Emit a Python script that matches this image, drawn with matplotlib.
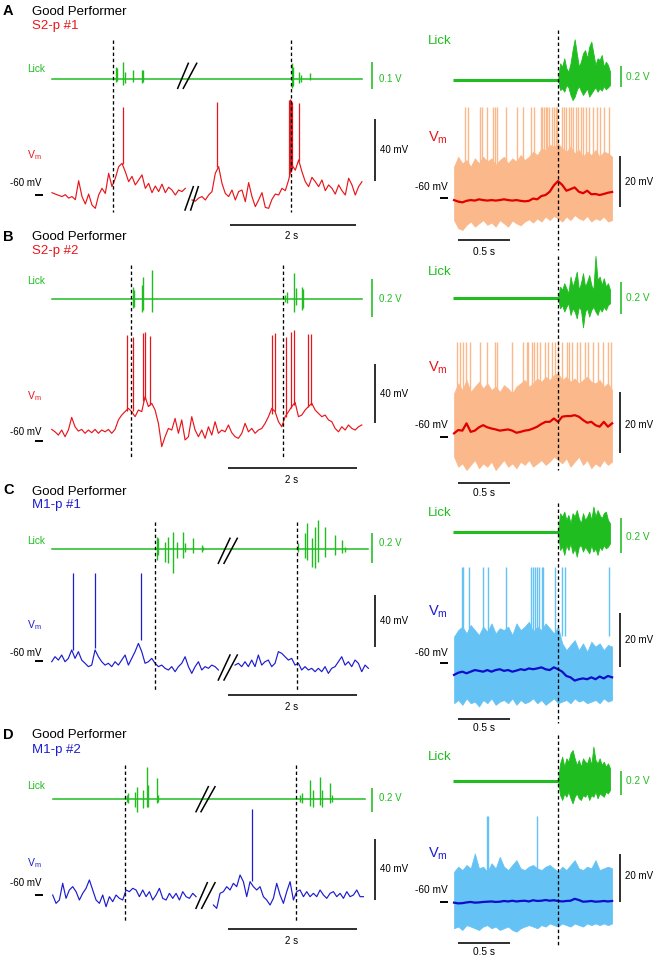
import numpy as np
import matplotlib
matplotlib.use('Agg')
import matplotlib.pyplot as plt
from matplotlib.lines import Line2D
import matplotlib.transforms as mtrans

plt.rcParams['font.family'] = ['Liberation Sans', 'DejaVu Sans']
plt.rcParams['mathtext.fontset'] = 'custom'
plt.rcParams['mathtext.rm'] = 'Liberation Sans'
plt.rcParams['mathtext.it'] = 'Liberation Sans:italic'

# ------------------------------------------------------------------ data
# ---- example traces (left column): Vm in mV, lick in V, time in s
A_DT = 0.0529
A_SEG_START = [0.0, 2.222]
A_VM1 = [-58.5, -59.4, -60.2, -61, -59.8, -62, -61, -63, -50.8, -61, -65.8, -59.4, -66.5, -68.6, -60, -55.7, -59, -46,
         -54.6, -49.2, -41.7, -39.6, -45, -51.4, -48, -53.5, -50.3, -47, -55.7, -52.5, -58.5, -54.2, -57.8, -53, -58.5,
         -55, -56.8, -60, -56.8, -57.8, -55.7]
A_VM2 = [-63.2, -64, -62, -61, -63.2, -60, -57.8, -46, -41.7, -52.5, -59, -61, -56.8, -63.2, -57.8, -56.8, -64.3, -52,
         -61, -67.5, -63.2, -58.5, -68, -68.6, -62.8, -59.4, -60, -55.7, -57.2, -50.3, -40.6, -44, -37.4, -45, -51.4,
         -54.6, -48.6, -51.4, -54.6, -50.3, -57.2, -53.5, -55.7, -59.4, -53.5, -57.2, -60, -49.2, -53.5, -60, -54.6, -51.4]
A_SPK_T = [1.132, 2.624, 3.757, 3.772, 3.788, 3.804, 3.915]
A_SPK_BASE = [-40, -42, -47, -46, -45, -43, -38]
A_SPK_PEAK = [-3, 0.2, 1.3, 1.7, 1.3, 0.2, -0.9]
A_LICK_DUR = 4.92
A_LICK_T = [1.016, 1.037, 1.132, 1.159, 1.280, 1.423, 1.450, 3.804, 3.831, 3.926, 3.952, 4.095]
A_LICK_HI = [0.0475, 0.041, 0.064, 0.029, 0.035, 0.035, 0.035, 0.06, 0.0475, 0.029, 0.016, 0.025]
A_LICK_LO = [-0.009, -0.005, -0.021, -0.015, -0.009, -0.0125, -0.009, -0.034, -0.025, -0.015, -0.009, -0.0025]
A_CUE_T = [0.963, 3.794]

B_DT = 0.0517
B_SEG_START = [0.0]
B_VM = [-52.4, -54, -56.2, -52.8, -57.3, -52.8, -44.3, -50.6, -53.5, -52.4, -55, -52.8, -54.6, -52.4, -55, -52.8, -54,
        -52.4, -55, -52.4, -46, -42.7, -40.4, -38.2, -40.4, -43.8, -39.3, -40.4, -30.3, -37, -34.8, -39.3, -48.3, -64,
        -57.3, -51.7, -52.8, -45, -55, -46, -59.5, -57.3, -43.8, -52.8, -57.3, -52.8, -58.4, -50.6, -56.2, -47.2, -55,
        -52.8, -54, -49.4, -54.6, -57.3, -58.4, -55, -48.3, -54, -51.7, -55, -52.8, -51.7, -48.3, -43.8, -38.2, -40.4,
        -47.2, -50.6, -43.8, -40.4, -37, -34.2, -43.8, -42.7, -39.3, -37, -34.8, -39.3, -41.6, -43.8, -42.7, -46, -47.2,
        -51.7, -54, -50.6, -52.8, -49.4, -51.7, -52.8, -50.6, -49.4]
B_SPK_T = [1.163, 1.256, 1.421, 1.447, 1.525, 3.411, 3.463, 3.633, 3.711, 3.757, 3.979, 4.016]
B_SPK_BASE = [-40, -40, -33, -32, -36, -42, -40, -44, -38, -36, -37, -36]
B_SPK_PEAK = [11.2, 10.1, 12.4, 13.5, 10.6, 11.2, 12.4, 10.1, 13.5, 14.6, 11.9, 11.9]
B_LICK_DUR = 4.806
B_LICK_T = [1.256, 1.282, 1.395, 1.421, 1.550, 3.618, 3.643, 3.757, 3.788, 3.876, 3.902]
B_LICK_HI = [0.064, 0.047, 0.073, 0.117, 0.151, 0.021, 0.038, 0.134, 0.056, 0.064, 0.05]
B_LICK_LO = [-0.049, -0.040, -0.066, -0.057, -0.066, -0.014, -0.019, -0.066, -0.031, -0.057, -0.049]
B_CUE_T = [1.230, 3.592]

C_DT = 0.0517
C_SEG_START = [0.0, 2.842]
C_VM1 = [-60.8, -56.9, -59.5, -55.6, -60.8, -58.2, -51.7, -58.2, -53, -59.5, -62, -64.6, -63.4, -51.7, -56.9, -60.8,
         -63.4, -62, -64.6, -60.8, -63.4, -59.5, -55.6, -63.4, -58.2, -53, -46.6, -53, -62, -60.8, -58.2, -62, -64.6,
         -63.4, -65.9, -67.2, -64.6, -68.5, -64.6, -62, -56.9, -64.6, -69.8, -64.6, -60.8, -67.2, -64.6, -65.9, -63.4,
         -64.6, -67.2]
C_VM2 = [-63.4, -62, -64.6, -60.8, -64.6, -59.5, -64.6, -55.6, -63.4, -60.8, -59.5, -64.6, -62, -53, -54.3, -56.9,
         -59.5, -58.2, -63.4, -62, -67.2, -64.6, -67.2, -65.9, -68.5, -65.9, -68.5, -64.6, -69.8, -65.9, -64.6, -60.8,
         -56.9, -63.4, -60.8, -64.6, -59.5, -62, -68.5, -63.4, -65.9]
C_SPK_T = [0.326, 0.677, 1.385]
C_SPK_BASE = [-52, -50, -44]
C_SPK_PEAK = [7.6, 7.6, 7.6]
C_LICK_DUR = 4.91
C_LICK_T = [1.628, 1.654, 1.757, 1.809, 1.886, 1.938, 2.041, 2.067, 2.196, 2.326, 2.351, 3.824, 3.928, 3.953, 4.031,
            4.083, 4.134, 4.238, 4.393, 4.496, 4.548]
C_LICK_HI = [0.084, 0.073, 0.051, 0.084, 0.118, 0.051, 0.118, 0.04, 0.073, 0.029, 0.018, 0.04, 0.107, 0.173, 0.073,
             0.151, 0.196, 0.151, 0.096, 0.062, 0.018]
C_LICK_LO = [-0.071, -0.038, -0.082, -0.093, -0.16, -0.06, -0.06, -0.016, -0.027, -0.016, -0.004, -0.016, -0.06,
             -0.071, -0.116, -0.127, -0.082, -0.049, -0.038, -0.027, -0.016]
C_CUE_T = [1.602, 3.798]

D_DT = 0.0517
D_SEG_START = [0.0, 2.491]
D_VM1 = [-60, -65.5, -63.3, -52.3, -62.2, -56.7, -54.5, -57.8, -63.3, -58.9, -55.6, -50.1, -56.7, -63.3, -65.5, -60,
         -67.7, -61.1, -64.4, -60, -62.2, -63.3, -56.7, -57.8, -55.6, -56.7, -61.1, -56.7, -61.1, -57.8, -63.3, -60,
         -55.6, -62.2, -63.3, -58.9, -62.2, -58.9, -63.3, -57.8, -61.1, -62.2, -58.9, -61.1]
D_VM2 = [-66.6, -68.8, -58.9, -57.8, -54.5, -56.7, -52.3, -54.5, -46.8, -51.2, -61.1, -51.2, -54.5, -56.7, -54.5,
         -61.1, -63.3, -66.6, -62.2, -52.3, -60, -65.5, -57.8, -51.2, -63.3, -57.8, -56.7, -61.1, -57.8, -61.1, -58.9,
         -61.1, -56.7, -60, -62.2, -58.9, -57.8, -61.1, -58.9, -62.2, -57.8, -61.1, -60, -56.7, -61.1, -61.1]
D_SPK_T = [3.096]
D_SPK_BASE = [-51]
D_SPK_PEAK = [-3.5]
D_LICK_DUR = 4.84
D_LICK_T = [1.147, 1.173, 1.276, 1.302, 1.406, 1.457, 1.483, 1.612, 1.638, 3.835, 3.86, 3.99, 4.041, 4.145, 4.171,
            4.3, 4.326]
D_LICK_HI = [0.033, 0.047, 0.06, 0.101, 0.074, 0.266, 0.115, 0.17, 0.033, 0.033, 0.047, 0.156, 0.074, 0.184, 0.074,
             0.129, 0.033]
D_LICK_LO = [-0.022, -0.036, -0.063, -0.104, -0.077, -0.063, -0.063, -0.036, -0.022, -0.022, -0.036, -0.058, -0.063,
             -0.049, -0.063, -0.036, -0.022]
D_CUE_T = [1.127, 3.773]

# ---- lick-aligned overlays (right column): time relative to first lick (s)
R_WIN = (-1.01, 0.52)
R_T0, R_DT = -1.0, 0.04          # Vm envelope / mean sampling
R_LICK_DT = 0.02                 # lick envelope sampling (from t = 0)

A_R_MEAN = [-60.7, -61.3, -61.6, -61, -60.7, -60.9, -60.4, -60.7, -60.9, -60.7, -60.9, -60.7, -60.4, -60.7, -60.9,
            -60.7, -61, -61.2, -61, -60.1, -60.4, -59.1, -58.7, -57.4, -54.9, -53.2, -54.7, -57, -56.4, -55.7, -57.4,
            -58, -57, -58.4, -58.3, -58.7, -58.3, -57.8, -57.5]
A_R_HI = [-47.5, -43.6, -46.2, -44.9, -47.5, -44.2, -46.2, -43.6, -45.5, -44.2, -46.8, -44.9, -43.6, -46.2, -44.2,
          -45.5, -42.9, -44.9, -43.6, -41.6, -42.9, -40.3, -40.9, -38.9, -39.6, -38.3, -40.3, -41.6, -39.6, -42.2,
          -40.9, -43.6, -41.6, -42.9, -40.9, -43.6, -41.6, -42.2, -43.6]
A_R_LO = [-68.6, -71.8, -72.5, -70.5, -69.2, -71.2, -69.9, -68.6, -70.5, -69.6, -71.2, -68.6, -69.9, -71.2, -68.8,
          -69.9, -70.7, -69.2, -68.3, -69.6, -67.9, -69.2, -67.2, -68.6, -67, -67.9, -69.2, -67.2, -68.6, -66.6, -67.9,
          -68.6, -67, -69.2, -67.9, -68.6, -67.2, -69.2, -68.6]
A_R_SPK = [-0.894, -0.869, -0.75, -0.731, -0.686, -0.622, -0.603, -0.583, -0.5, -0.397, -0.34, -0.263, -0.231, -0.167,
           -0.151, -0.135, -0.119, -0.103, -0.083, -0.061, -0.038, -0.019, -0.006, 0.035, 0.058, 0.077, 0.103, 0.122,
           0.147, 0.173, 0.196, 0.218, 0.244, 0.269, 0.301, 0.34, 0.372, 0.404, 0.442, 0.494]
A_R_SPK_TOP = -24.1
A_R_LICK_HI = [0, 0.161, 0.129, 0.21, 0.113, 0.081, 0.161, 0.29, 0.394, 0.258, 0.129, 0.177, 0.258, 0.29, 0.21, 0.323,
               0.371, 0.258, 0.145, 0.21, 0.194, 0.242, 0.129, 0.177, 0.145, 0.081]
A_R_LICK_LO = [0, -0.097, -0.081, -0.113, -0.048, -0.071, -0.145, -0.194, -0.161, -0.097, -0.058, -0.103, -0.145,
               -0.113, -0.081, -0.161, -0.129, -0.097, -0.071, -0.113, -0.081, -0.103, -0.058, -0.09, -0.071, -0.048]

B_R_MEAN = [-58.9, -57.8, -58, -55.6, -58.4, -58, -56.9, -56.2, -56.9, -57.3, -57.6, -58, -57.8, -57.6, -58, -58.7,
            -58.4, -58, -57.8, -57.3, -56.7, -55.8, -55.1, -55.1, -54, -55.1, -53.4, -53.2, -53.2, -52.9, -53.4, -54.5,
            -55.4, -55.1, -56.2, -56.7, -55.1, -56.7, -55.6]
B_R_HI = [-45.7, -42.4, -44.6, -41.3, -45.2, -43.5, -41.9, -44.1, -42.4, -44.6, -43.5, -45.2, -43, -44.1, -45.7, -43.5,
          -42.4, -41.3, -43.5, -42.4, -40.8, -41.9, -40.2, -41.3, -39.7, -39.1, -41.3, -40.2, -41.9, -40.8, -42.4,
          -41.3, -40.2, -41.9, -42.4, -41.3, -43.5, -42.4, -44.6]
B_R_LO = [-66.6, -69.9, -68.8, -71, -69.3, -67.7, -70.4, -68.8, -69.9, -68.2, -71, -69.3, -67.7, -69.9, -68.8, -70.4,
          -68.2, -69.3, -67.7, -69.9, -68.8, -67.7, -69.3, -68.2, -66.6, -67.7, -68.8, -67.1, -69.9, -68.2, -66.6,
          -69.3, -67.7, -70.4, -68.8, -69.9, -67.7, -69.3, -68.2]
B_R_SPK = [-0.974, -0.942, -0.91, -0.885, -0.846, -0.75, -0.686, -0.606, -0.59, -0.446, -0.333, -0.301, -0.285,
           -0.253, -0.231, -0.205, -0.173, -0.125, -0.093, -0.061, -0.029, 0.003, 0.035, 0.083, 0.109, 0.131, 0.179,
           0.212, 0.26, 0.292, 0.34, 0.388, 0.436, 0.484, 0.506]
B_R_SPK_TOP = -28.7
B_R_LICK_HI = [0, 0.072, 0.052, 0.093, 0.062, 0.031, 0.134, 0.072, 0.113, 0.165, 0.052, 0.093, 0.155, 0.072, 0.103,
               0.144, 0.082, 0.052, 0.262, 0.113, 0.134, 0.082, 0.124, 0.072, 0.093, 0.052]
B_R_LICK_LO = [0, -0.062, -0.041, -0.082, -0.052, -0.031, -0.103, -0.062, -0.082, -0.124, -0.052, -0.072, -0.179,
               -0.082, -0.062, -0.113, -0.072, -0.052, -0.082, -0.103, -0.062, -0.082, -0.052, -0.072, -0.041, -0.031]

C_R_MEAN = [-64.3, -63.5, -63.1, -63.7, -63.1, -62.5, -62.8, -63.1, -62.5, -63.1, -62.5, -62.2, -62.8, -62.5, -63.1,
            -62.7, -62.2, -62.5, -61.9, -62.2, -61.9, -61.5, -62.2, -62.5, -61.5, -62.2, -63.1, -64.7, -65.2, -66.4,
            -65.9, -65.6, -65.9, -65.2, -65.9, -64.9, -65.6, -64.7, -65.2]
C_R_HI = [-50.1, -47.7, -46.4, -48.9, -45.8, -47.7, -49.5, -46.4, -48.3, -45.2, -48.9, -47, -47.7, -46.4, -49.5, -45.2,
          -47.7, -46.4, -44.6, -48.3, -46.4, -47.7, -45.2, -47, -48.9, -46.4, -52.6, -55.1, -53.2, -51.4, -55.1, -52.6,
          -55.7, -52, -53.8, -52.6, -55.1, -53.2, -53.8]
C_R_LO = [-74.8, -73.6, -75.4, -73, -74.8, -74.2, -76, -73.6, -74.8, -73, -75.4, -74.2, -73.6, -74.8, -73, -75.4,
          -73.6, -74.8, -74.2, -73, -74.8, -73.6, -75.4, -74.2, -73, -74.8, -74.2, -73.6, -74.8, -73, -74.2, -73.6,
          -74.8, -74.2, -73.6, -74.8, -73, -74.2, -73.6]
C_R_SPK = [-0.926, -0.91, -0.853, -0.718, -0.67, -0.5, -0.263, -0.244, -0.221, -0.199, -0.179, -0.157, -0.141, -0.029,
           0.035, 0.067, 0.494]
C_R_SPK_TOP = -24.2
C_R_LICK_HI = [0, 0.108, 0.089, 0.117, 0.07, 0.098, 0.051, 0.108, 0.089, 0.126, 0.079, 0.051, 0.108, 0.07, 0.089,
               0.117, 0.07, 0.145, 0.089, 0.126, 0.098, 0.079, 0.108, 0.117, 0.07, 0.051]
C_R_LICK_LO = [0, -0.1, -0.081, -0.128, -0.072, -0.1, -0.062, -0.119, -0.091, -0.138, -0.081, -0.072, -0.109, -0.081,
               -0.1, -0.119, -0.072, -0.109, -0.091, -0.128, -0.081, -0.1, -0.072, -0.091, -0.081, -0.062]

D_R_MEAN = [-60.4, -60.7, -60.6, -60.3, -60.1, -60.4, -60.3, -60.1, -60, -59.9, -60.1, -60, -59.7, -59.9, -59.6, -59.9,
            -59.7, -59.6, -59.9, -59.4, -59.7, -59.6, -59.3, -59.6, -59.4, -59.7, -59.9, -59.7, -59.6, -58.8, -59.3,
            -60, -59.9, -59.7, -60, -59.9, -59.7, -59.9, -59.7]
D_R_HI = [-47.6, -45.5, -46.9, -44.8, -46.2, -40, -46.2, -45.5, -47.6, -44.1, -46.2, -41.4, -45.5, -46.9, -44.8, -42.8,
          -46.2, -46.9, -45.5, -44.8, -46.2, -46.9, -45.5, -44.8, -46.2, -47.6, -45.5, -46.9, -44.8, -42.8, -46.2,
          -46.9, -45.5, -46.2, -42.8, -46.9, -46.2, -45.5, -46.2]
D_R_LO = [-71, -70.3, -71.7, -69.7, -70.3, -71, -71.7, -70.3, -69.7, -71, -70.3, -71.7, -71, -70.3, -71.7, -72.4, -71,
          -70.3, -69.7, -70.3, -71, -69.7, -70.3, -69, -69.7, -70.3, -69, -69.7, -70.3, -69, -69.7, -70.3, -69, -69.7,
          -69, -69.7, -69, -69.7, -69]
D_R_SPK = [-0.686, -0.67, -0.199]
D_R_SPK_TOP = -24.6
D_R_LICK_HI = [0, 0.147, 0.203, 0.119, 0.189, 0.161, 0.231, 0.258, 0.189, 0.133, 0.175, 0.119, 0.189, 0.161, 0.147,
               0.203, 0.133, 0.286, 0.175, 0.147, 0.189, 0.133, 0.161, 0.119, 0.147, 0.106]
D_R_LICK_LO = [0, -0.117, -0.158, -0.103, -0.131, -0.089, -0.144, -0.186, -0.131, -0.103, -0.144, -0.158, -0.117,
               -0.131, -0.103, -0.158, -0.117, -0.131, -0.089, -0.144, -0.103, -0.117, -0.131, -0.089, -0.103, -0.075]

PANEL_LETTERS = ['A', 'B', 'C', 'D']
CELL_NAMES = ['S2-p #1', 'S2-p #2', 'M1-p #1', 'M1-p #2']
GROUP_TITLE = 'Good Performer'
LICK_SCALE_LEFT = [0.1, 0.2, 0.2, 0.2]   # V
LICK_SCALE_RIGHT = 0.2                    # V
VM_SCALE_LEFT = 40                        # mV
VM_SCALE_RIGHT = 20                       # mV
T_SCALE_LEFT = 2.0                        # s
T_SCALE_RIGHT = 0.5                       # s
VM_REF = -60                              # mV

# ------------------------------------------------------------------ style
GREEN = '#1fbd1f'
RED = '#e8161b'
BLUE = '#1c1cd0'
ORANGE_L = '#fbb88a'
BLUE_L = '#64c2f5'
MEAN_RED = '#e10000'
MEAN_BLUE = '#0d0dcc'

W, H = 654, 957
fig = plt.figure(figsize=(W / 100, H / 100), dpi=100)


def px_ax(x0, x1, ytop, ybot, t0, pps, yref, vref, ppu):
    ax = fig.add_axes([x0 / W, 1 - ybot / H, (x1 - x0) / W, (ybot - ytop) / H])
    ax.set_xlim(t0, t0 + (x1 - x0) / pps)
    ax.set_ylim(vref - (ybot - yref) / ppu, vref + (yref - ytop) / ppu)
    ax.set_axis_off()
    return ax


def px2data(ax, x, y):
    disp = fig.transFigure.transform((x / W, 1 - y / H))
    return ax.transData.inverted().transform(disp)


def ftext(x, y, s, **kw):
    kw.setdefault('va', 'center')
    fig.text(x / W, 1 - y / H, s, **kw)


def fline(x0, y0, x1, y1, **kw):
    fig.add_artist(Line2D([x0 / W, x1 / W], [1 - y0 / H, 1 - y1 / H], transform=fig.transFigure, **kw))


def dashed(ax, t, ytop, ybot):
    tr = mtrans.blended_transform_factory(ax.transData, fig.transFigure)
    ax.plot([t, t], [1 - ytop / H, 1 - ybot / H], transform=tr, color='black', lw=0.95,
            ls=(0, (2.6, 2.0)), clip_on=False, zorder=6)


def vbar(ax, xpx, ybot_px, length, color):
    tb, vb = px2data(ax, xpx, ybot_px)
    ax.plot([tb, tb], [vb, vb + length], color=color, lw=1.15, clip_on=False, solid_capstyle='butt')


def hbar(ax, x0px, ypx, length):
    tb, vb = px2data(ax, x0px, ypx)
    ax.plot([tb, tb + length], [vb, vb], color='black', lw=1.15, clip_on=False, solid_capstyle='butt')


def ref_tick(ax, x0px, x1px, v):
    ta, _ = px2data(ax, x0px, 0)
    tb, _ = px2data(ax, x1px, 0)
    ax.plot([ta, tb], [v, v], color='black', lw=1.4, clip_on=False, solid_capstyle='butt')


def vm_label(x, y, color, size):
    ftext(x, y, r'V$_{\mathrm{m}}$', color=color, fontsize=size)


# ------------------------------------------------------------------ left column
LEFT = [
    dict(dt=A_DT, starts=A_SEG_START, segs=[A_VM1, A_VM2], spk=(A_SPK_T, A_SPK_BASE, A_SPK_PEAK),
         lick=(A_LICK_T, A_LICK_HI, A_LICK_LO), dur=A_LICK_DUR, cue=A_CUE_T, color=RED,
         tx0=52, pps=63, lk=(79.3, 266.7, 55, 100), vm=(195, 1.55, 95, 215),
         lbar_y=88.5, vbar_y=180.5, tbar=(230, 225), cue_y=(40, 212),
         brk=[((177.7, 88.3, 188.3, 63.3), (183.3, 88.3, 196.7, 63.3)),
              ((185, 210, 193.3, 186.7), (190.7, 210, 198.3, 186.7))]),
    dict(dt=B_DT, starts=B_SEG_START, segs=[B_VM], spk=(B_SPK_T, B_SPK_BASE, B_SPK_PEAK),
         lick=(B_LICK_T, B_LICK_HI, B_LICK_LO), dur=B_LICK_DUR, cue=B_CUE_T, color=RED,
         tx0=51.7, pps=64.5, lk=(299, 191.7, 260, 335), vm=(440.7, 1.483, 320, 460),
         lbar_y=317, vbar_y=423, tbar=(228, 468), cue_y=(265, 457),
         brk=[]),
    dict(dt=C_DT, starts=C_SEG_START, segs=[C_VM1, C_VM2], spk=(C_SPK_T, C_SPK_BASE, C_SPK_PEAK),
         lick=(C_LICK_T, C_LICK_HI, C_LICK_LO), dur=C_LICK_DUR, cue=C_CUE_T, color=BLUE,
         tx0=51.7, pps=64.5, lk=(549.3, 150, 515, 580), vm=(660.7, 1.292, 565, 700),
         lbar_y=563, vbar_y=647, tbar=(228, 695), cue_y=(522, 690),
         brk=[((218.3, 563.3, 230, 538.3), (224, 563.3, 237.3, 538.3)),
              ((218.3, 680, 230, 655), (224, 680, 237.3, 655))]),
    dict(dt=D_DT, starts=D_SEG_START, segs=[D_VM1, D_VM2], spk=(D_SPK_T, D_SPK_BASE, D_SPK_PEAK),
         lick=(D_LICK_T, D_LICK_HI, D_LICK_LO), dur=D_LICK_DUR, cue=D_CUE_T, color=BLUE,
         tx0=52.7, pps=64.5, lk=(799, 121.7, 762, 815), vm=(895, 1.517, 805, 935),
         lbar_y=812, vbar_y=900, tbar=(228, 929), cue_y=(765, 922),
         brk=[((196, 811.7, 208.3, 786.7), (201, 811.7, 215, 786.7)),
              ((196, 908.3, 207.3, 882.7), (201.7, 908.3, 215, 882.7))]),
]

# label y-positions (pixel rows) per panel, left and right columns
LAB = [
    dict(letter=11, title=12, cell=26, lick=69, lickv=79, vm=155, m60=183, mv40=150, s2=236,
         r_lick=41, r_vm=138, r_lickv=77, r_m60=187, r_mv20=182, r_s05=252),
    dict(letter=237, title=237, cell=251, lick=281, lickv=299, vm=396, m60=432, mv40=394, s2=480,
         r_lick=272, r_vm=368, r_lickv=298, r_m60=425, r_mv20=425, r_s05=493),
    dict(letter=490, title=492, cell=505, lick=541, lickv=543, vm=625, m60=653, mv40=621, s2=707,
         r_lick=513, r_vm=612, r_lickv=537, r_m60=653, r_mv20=640, r_s05=728),
    dict(letter=735, title=735, cell=750, lick=786, lickv=798, vm=863, m60=883, mv40=869, s2=941,
         r_lick=757, r_vm=854, r_lickv=781, r_m60=890, r_mv20=876, r_s05=952),
]

for i, P in enumerate(LEFT):
    L = LAB[i]
    x1 = 380
    yref, ppu, yt, yb = P['lk']
    axl = px_ax(P['tx0'], x1, yt, yb, 0.0, P['pps'], yref, 0.0, ppu)
    yref, ppu, yt, yb = P['vm']
    axv = px_ax(P['tx0'], x1, yt, yb, 0.0, P['pps'], yref, VM_REF, ppu)

    # lick trace: flat baseline plus lick deflections
    axl.plot([0, P['dur']], [0, 0], color=GREEN, lw=1.1, clip_on=False)
    lt, lh, ll = P['lick']
    axl.vlines(lt, ll, lh, color=GREEN, lw=1.0, clip_on=False)

    # Vm trace segments
    for st, seg in zip(P['starts'], P['segs']):
        t = st + P['dt'] * np.arange(len(seg))
        axv.plot(t, seg, color=P['color'], lw=0.85, clip_on=False)
    st_, sb_, sp_ = P['spk']
    axv.vlines(st_, sb_, sp_, color=P['color'], lw=0.9, clip_on=False)

    # cue lines
    for c in P['cue']:
        dashed(axv, c, *P['cue_y'])

    # break marks
    for pair in P['brk']:
        for (a, b, c, d) in pair:
            fline(a, b, c, d, color='black', lw=1.1)

    # scale bars
    vbar(axl, 372, P['lbar_y'], LICK_SCALE_LEFT[i], GREEN)
    vbar(axv, 375, P['vbar_y'], VM_SCALE_LEFT, 'black')
    hbar(axv, P['tbar'][0], P['tbar'][1], T_SCALE_LEFT)
    ref_tick(axv, 35, 43, VM_REF)

    # texts
    ftext(3, L['letter'], PANEL_LETTERS[i], fontsize=10.5, fontweight='bold')
    ftext(32, L['title'], GROUP_TITLE, fontsize=9.5)
    ftext(32, L['cell'], CELL_NAMES[i], fontsize=9.5, color=P['color'])
    ftext(27, L['lick'], 'Lick', fontsize=7.3, color=GREEN)
    vm_label(27, L['vm'], P['color'], 7.5)
    ftext(10, L['m60'], '-60 mV', fontsize=7)
    ftext(379, L['lickv'], f'{LICK_SCALE_LEFT[i]:.1f} V', fontsize=7, color=GREEN)
    ftext(380, L['mv40'], f'{VM_SCALE_LEFT} mV', fontsize=7)
    ftext(292, L['s2'], f'{T_SCALE_LEFT:.0f} s', fontsize=7, ha='center')

# ------------------------------------------------------------------ right column
RIGHT = [
    dict(mean=A_R_MEAN, hi=A_R_HI, lo=A_R_LO, spk=A_R_SPK, top=A_R_SPK_TOP, lhi=A_R_LICK_HI, llo=A_R_LICK_LO,
         band=ORANGE_L, mcol=MEAN_RED, lab=RED, lk=(80, 103.3), vm=(198.3, 2.533),
         box_l=(25, 110), box_v=(100, 240), lbar_y=87, vbar_y=207, tbar_y=240, cue_y=(30, 250)),
    dict(mean=B_R_MEAN, hi=B_R_HI, lo=B_R_LO, spk=B_R_SPK, top=B_R_SPK_TOP, lhi=B_R_LICK_HI, llo=B_R_LICK_LO,
         band=ORANGE_L, mcol=MEAN_RED, lab=RED, lk=(298.3, 161.7), vm=(436.7, 3.033),
         box_l=(255, 330), box_v=(335, 480), lbar_y=314, vbar_y=453, tbar_y=483, cue_y=(256, 470)),
    dict(mean=C_R_MEAN, hi=C_R_HI, lo=C_R_LO, spk=C_R_SPK, top=C_R_SPK_TOP, lhi=C_R_LICK_HI, llo=C_R_LICK_LO,
         band=BLUE_L, mcol=MEAN_BLUE, lab=BLUE, lk=(532.3, 176.7), vm=(663.3, 2.7),
         box_l=(500, 565), box_v=(560, 715), lbar_y=553, vbar_y=667, tbar_y=719, cue_y=(503, 723)),
    dict(mean=D_R_MEAN, hi=D_R_HI, lo=D_R_LO, spk=D_R_SPK, top=D_R_SPK_TOP, lhi=D_R_LICK_HI, llo=D_R_LICK_LO,
         band=BLUE_L, mcol=MEAN_BLUE, lab=BLUE, lk=(781, 120), vm=(901.7, 2.417),
         box_l=(740, 810), box_v=(810, 945), lbar_y=795, vbar_y=902, tbar_y=943, cue_y=(735, 945)),
]

RX0, RX1, RPPS = 453, 640, 104.0
for i, R in enumerate(RIGHT):
    L = LAB[i]
    axl = px_ax(RX0, RX1, R['box_l'][0], R['box_l'][1], R_WIN[0], RPPS, R['lk'][0], 0.0, R['lk'][1])
    axv = px_ax(RX0, RX1, R['box_v'][0], R['box_v'][1], R_WIN[0], RPPS, R['vm'][0], VM_REF, R['vm'][1])

    # lick overlay: silent before first lick, dense after
    axl.plot([R_WIN[0], 0.0], [0, 0], color=GREEN, lw=2.2, solid_capstyle='butt', clip_on=False)
    n = min(len(R['lhi']), len(R['llo']))
    tl = R_LICK_DT * np.arange(n)
    axl.fill_between(tl, R['llo'][:n], R['lhi'][:n], color=GREEN, lw=0.6, edgecolor=GREEN, clip_on=False)

    # Vm overlay: all trials (envelope + spikes) and mean
    n = min(len(R['hi']), len(R['lo']))
    tv = R_T0 + R_DT * np.arange(n)
    axv.vlines(R['spk'], VM_REF + 10, R['top'], color=R['band'], lw=1.0, clip_on=False, zorder=1)
    axv.fill_between(tv, R['lo'][:n], R['hi'][:n], color=R['band'], lw=0.5, edgecolor=R['band'],
                     clip_on=False, zorder=1)
    tm = R_T0 + R_DT * np.arange(len(R['mean']))
    axv.plot(tm, R['mean'], color=R['mcol'], lw=1.6, clip_on=False, zorder=3)

    dashed(axv, 0.0, *R['cue_y'])

    vbar(axl, 621, R['lbar_y'], LICK_SCALE_RIGHT, GREEN)
    vbar(axv, 620, R['vbar_y'], VM_SCALE_RIGHT, 'black')
    t0b, _ = px2data(axv, 458, 0)
    axv.plot([t0b, t0b + T_SCALE_RIGHT], [px2data(axv, 0, R['tbar_y'])[1]] * 2, color='black', lw=1.15,
             clip_on=False, solid_capstyle='butt')
    ref_tick(axv, 440, 448, VM_REF)

    ftext(428, L['r_lick'], 'Lick', fontsize=9.5, color=GREEN)
    vm_label(428, L['r_vm'], R['lab'], 10.5)
    ftext(626, L['r_lickv'], f'{LICK_SCALE_RIGHT:.1f} V', fontsize=7.3, color=GREEN)
    ftext(415, L['r_m60'], '-60 mV', fontsize=7.3)
    ftext(625, L['r_mv20'], f'{VM_SCALE_RIGHT} mV', fontsize=7)
    ftext(484, L['r_s05'], f'{T_SCALE_RIGHT} s', fontsize=7.3, ha='center')

fig.savefig('out.png', dpi=100)
